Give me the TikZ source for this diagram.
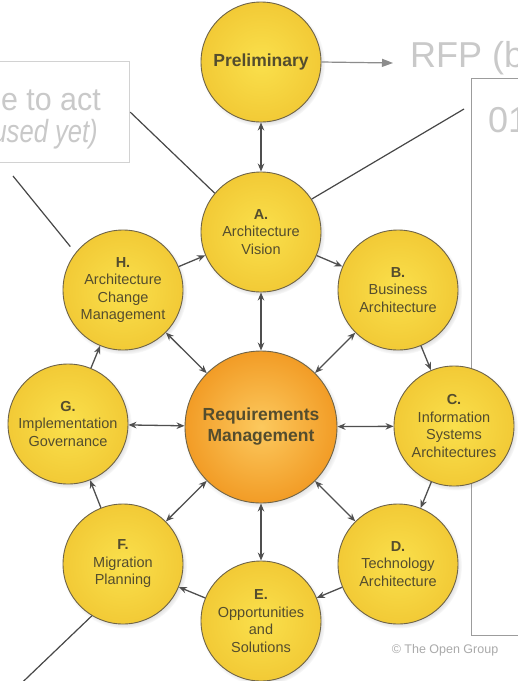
\documentclass[tikz,border=0pt]{standalone}
\usepackage{fontspec}
\setmainfont{Liberation Sans}
\usetikzlibrary{arrows.meta,shadows,fadings}
\definecolor{ylin}{HTML}{FAE04C}
\definecolor{ylout}{HTML}{F2CA36}
\definecolor{orin}{HTML}{FCC95E}
\definecolor{orout}{HTML}{F29C26}
\definecolor{rim}{HTML}{6F6448}
\definecolor{ink}{HTML}{544D2E}
\definecolor{arr}{HTML}{4F4F4F}
\definecolor{ghost}{HTML}{C9C9C9}
\definecolor{ghostbox}{HTML}{D2D2D2}
\definecolor{ghostboxb}{HTML}{9C9C9C}
\definecolor{garrow}{HTML}{8C8C8C}
\definecolor{note}{HTML}{474747}
\definecolor{copyr}{HTML}{AAAAAA}
\begin{document}
\begin{tikzpicture}[x=1pt,y=-1pt,
  phase/.style={circle, draw=rim, line width=0.9pt, inner sep=0pt, minimum size=120pt,
    inner color=ylin, outer color=ylout, text=ink, align=center,
    font=\fontsize{14.5}{17.5}\selectfont,
    circular drop shadow={shadow xshift=1.5pt, shadow yshift=-2pt, shadow scale=1.04, opacity=0.45}},
  core/.style={phase, minimum size=152pt, inner color=orin, outer color=orout,
    font=\bfseries\fontsize{17.5}{21}\selectfont},
  ringarrow/.style={draw=arr, line width=1.3pt, -{Stealth[length=8pt,width=6.5pt]}},
  duoarrow/.style={draw=arr, line width=1.3pt, {Stealth[length=8pt,width=6.5pt]}-{Stealth[length=8pt,width=6.5pt]}},
  ghosttext/.style={text=ghost, inner sep=0pt, font=\fontsize{32}{38}\selectfont},
  bigghost/.style={text=ghost, inner sep=0pt, font=\fontsize{36}{42}\selectfont},
  noteline/.style={draw=note, line width=1.2pt},
  greyarrow/.style={draw=garrow, line width=1.2pt, -{Triangle[length=11pt,width=8pt]}}
]
\useasboundingbox (0,0) rectangle (518,681);
\clip (0,0) rectangle (518,681);
\fill[white] (0,0) rectangle (518,681);

% annotation boxes (behind)
\node[draw=ghostbox, line width=1.2pt, minimum width=131pt, minimum height=101pt, inner sep=0pt, anchor=north west] (lbox) at (-2,61) {};
\node[ghosttext, anchor=base east] (acttxt) at (101,110) {\scalebox{0.95}[1]{e to act}};
\node[ghosttext, anchor=base east] (usedtxt) at (98,142) {\scalebox{0.8}[1]{\itshape used yet)}};
\node[draw=ghostboxb, line width=1.2pt, minimum width=70pt, minimum height=557pt, inner sep=0pt, anchor=north west] (rbox) at (471,78) {};
\node[bigghost, anchor=base west] (rfp) at (410,67) {RFP (b};
\node[bigghost, anchor=base west] (num) at (488,132) {01};
\node[text=copyr, inner sep=0pt, font=\fontsize{12.5}{14}\selectfont] (copy) at (445,650) {© The Open Group};

% phases
\node[phase, font=\bfseries\fontsize{17.5}{21}\selectfont] (P) at (261,62) {Preliminary};
\node[phase] (A) at (261,232) {\textbf{A.}\\Architecture\\Vision};
\node[phase] (B) at (398,290) {\textbf{B.}\\Business\\Architecture};
\node[phase] (C) at (454,426) {\textbf{C.}\\Information\\Systems\\Architectures};
\node[phase] (D) at (398,564) {\textbf{D.}\\Technology\\Architecture};
\node[phase] (E) at (261,621) {\textbf{E.}\\Opportunities\\and\\Solutions};
\node[phase] (F) at (123,564) {\textbf{F.}\\Migration\\Planning};
\node[phase] (G) at (68,424) {\textbf{G.}\\Implementation\\Governance};
\node[phase] (H) at (123,290) {\textbf{H.}\\Architecture\\Change\\Management};
\node[core] (R) at (261,427) {Requirements\\Management};

% cycle
\draw[ringarrow] (A) -- (B);
\draw[ringarrow] (B) -- (C);
\draw[ringarrow] (C) -- (D);
\draw[ringarrow] (D) -- (E);
\draw[ringarrow] (E) -- (F);
\draw[ringarrow] (F) -- (G);
\draw[ringarrow] (G) -- (H);
\draw[ringarrow] (H) -- (A);
% hub
\foreach \n in {A,B,C,D,E,F,G,H} { \draw[duoarrow] (R) -- (\n); }
\draw[duoarrow] (P) -- (A);

% annotations
\coordinate (rfptip) at (393,63);
\draw[greyarrow] (P.east) -- (rfptip);
\draw[noteline] (lbox.east) -- (A.140);
\coordinate (hstart) at (13,176);
\draw[noteline, shorten >=8pt] (hstart) -- (H.142);
\coordinate (rend) at (464,109);
\draw[noteline] (A.33) -- (rend);
\coordinate (fend) at (6,698);
\draw[noteline] (F.239) -- (fend);
\end{tikzpicture}
\end{document}
